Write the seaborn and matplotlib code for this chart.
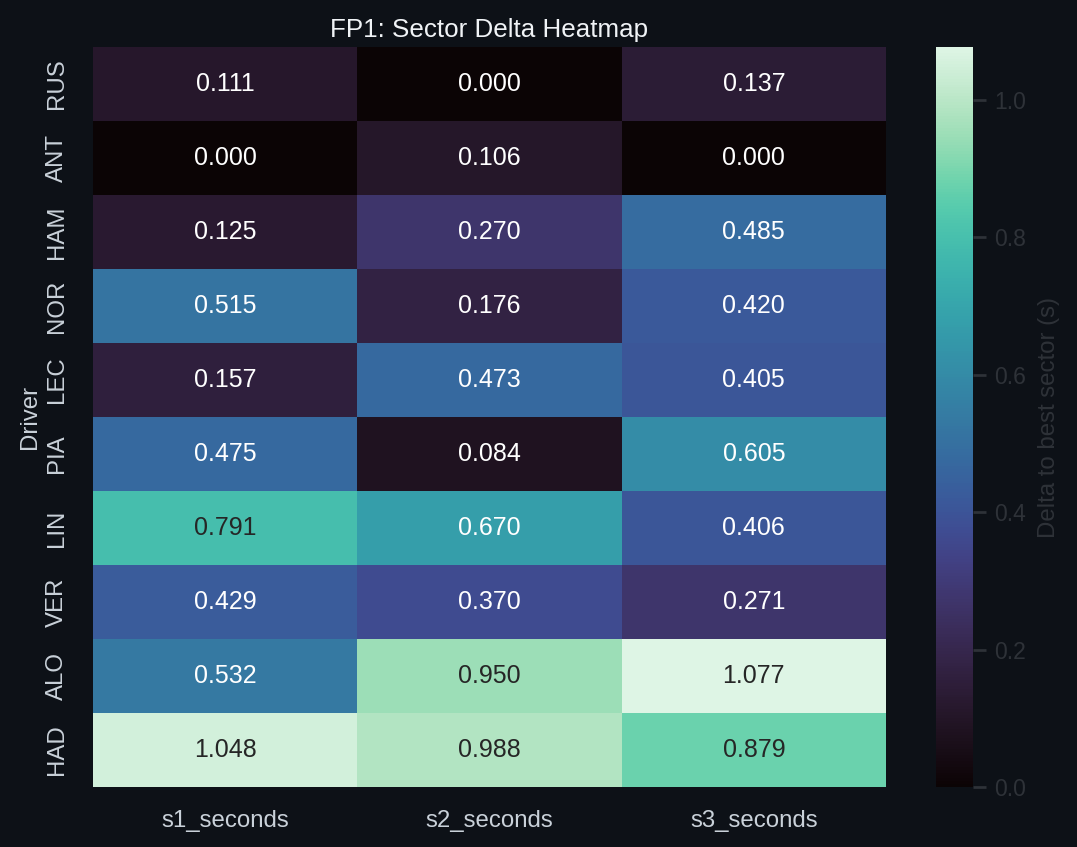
import seaborn as sns
import numpy as np
import pandas as pd
import matplotlib.pyplot as plt

drivers = ["RUS", "ANT", "HAM", "NOR", "LEC", "PIA", "LIN", "VER", "ALO", "HAD"]
s1_seconds = [0.111, 0.000, 0.125, 0.515, 0.157, 0.475, 0.791, 0.429, 0.532, 1.048]
s2_seconds = [0.000, 0.106, 0.270, 0.176, 0.473, 0.084, 0.670, 0.370, 0.950, 0.988]
s3_seconds = [0.137, 0.000, 0.485, 0.420, 0.405, 0.605, 0.406, 0.271, 1.077, 0.879]

df = pd.DataFrame({"s1_seconds": s1_seconds,
                   "s2_seconds": s2_seconds,
                   "s3_seconds": s3_seconds}, index=drivers)
df.index.name = "Driver"

bg = "#0d1117"
light = "#c9d1d9"
dim = "#2e3238"

sns.set_style("dark")
plt.rcParams["font.family"] = ["Liberation Sans", "DejaVu Sans"]

fig = plt.figure(figsize=(1077 / 150, 847 / 150), dpi=150, facecolor=bg)
ax = fig.add_axes([93 / 1077, 1 - 787 / 847, (886 - 93) / 1077, (787 - 47) / 847])
cax = fig.add_axes([936 / 1077, 1 - 787 / 847, 37 / 1077, (787 - 47) / 847])
ax.set_facecolor(bg)

sns.heatmap(df, annot=True, fmt=".3f", cmap="mako", vmin=0, vmax=df.values.max(),
            ax=ax, cbar_ax=cax, annot_kws={"size": 12},
            cbar_kws={"label": "Delta to best sector (s)"})

ax.set_title("FP1: Sector Delta Heatmap", color="#f0f3f6", fontsize=12.5, pad=5)
ax.set_xlabel("")
ax.set_ylabel("Driver", color=light, fontsize=11.5, labelpad=2.5)
ax.tick_params(colors=light, labelsize=11.5, length=0)
ax.tick_params(axis="x", pad=11)
ax.tick_params(axis="y", labelrotation=90, pad=12)

cax.tick_params(colors=dim, labelsize=11, length=6, width=1.3, labelcolor=dim, pad=4)
cax.set_ylabel("Delta to best sector (s)", color=dim, fontsize=11.5, labelpad=6)
for s in cax.spines.values():
    s.set_visible(False)

fig.savefig("out.png", dpi=150, facecolor=bg)
